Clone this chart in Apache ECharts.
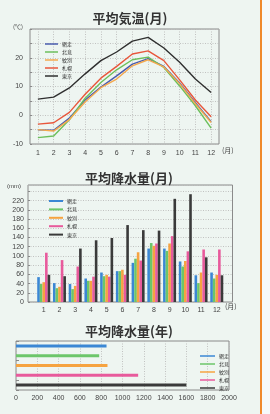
<!DOCTYPE html>
<html>
<head>
<meta charset="utf-8">
<title>平均気温・平均降水量</title>
<script src="https://cdn.jsdelivr.net/npm/echarts@6/dist/echarts.min.js"></script>
<style>
  body { margin: 0; background: #eef5f1; }
  #main { width: 270px; height: 414px; }
</style>
</head>
<body>
<div id="main"></div>
<script>
// 地点・月
var cities = ['網走', '北見', '紋別', '札幌', '東京'];
var months = ['1', '2', '3', '4', '5', '6', '7', '8', '9', '10', '11', '12'];

// 平均気温(℃)
var tempAbashiri = [-5.1, -5.2, -1.0, 5.3, 9.8, 13.7, 17.8, 19.7, 17.0, 11.2, 4.4, -2.2];
var tempKitami   = [-7.8, -7.2, -1.6, 5.9, 11.4, 15.8, 19.3, 20.2, 16.6, 10.2, 3.3, -4.5];
var tempMonbetsu = [-5.0, -5.5, -1.5, 4.6, 9.6, 12.6, 17.2, 19.3, 16.8, 11.0, 4.0, -2.5];
var tempSapporo  = [-3.1, -2.6, 1.0, 7.3, 12.9, 17.0, 21.3, 22.4, 19.0, 12.3, 5.3, -0.5];
var tempTokyo    = [5.6, 6.3, 9.5, 14.4, 19.0, 22.0, 25.8, 27.1, 23.4, 18.4, 12.6, 7.9];

// 平均降水量(mm・月)
var rainAbashiri = [54, 41, 39, 51, 64, 67, 85, 116, 116, 88, 58, 64];
var rainKitami   = [39, 30, 28, 46, 56, 67, 94, 128, 111, 77, 41, 51];
var rainMonbetsu = [43, 33, 35, 46, 59, 70, 108, 122, 127, 89, 64, 59];
var rainSapporo  = [107, 91, 77, 55, 55, 59, 90, 127, 143, 110, 114, 114];
var rainTokyo    = [59, 56, 116, 134, 139, 167, 156, 155, 224, 234, 97, 58];

// 平均降水量(mm・年)
var rainYear = [850, 781, 859, 1147, 1600];

var lineColors = ['#4a5cae', '#6cbf5c', '#f4a94e', '#e8563b', '#2f2f2f'];
var barColors  = ['#3b87d4', '#6cc66a', '#f6a340', '#e85a9c', '#3a3a3a'];

var myChart = echarts.init(document.getElementById('main'));

var numFont = 'Liberation Sans';
var jpFont = 'Noto Sans CJK JP';
var labelStyle = { fontSize: 7, color: '#444', fontFamily: numFont };
var boxColor = '#8a8a8a';
var gridLine = { show: true, lineStyle: { color: '#b5b5b5', type: [1, 1.5], width: 0.8 } };

function legendData(colors) {
    return cities.map(function (c, i) {
        return { name: c, icon: 'rect', itemStyle: { color: colors[i] }, lineStyle: { color: colors[i] } };
    });
}

// 棒グラフ用に左右を空けたカテゴリ
var padMonths = [''].concat(months).concat(['']);
function pad(arr) { return ['-'].concat(arr).concat(['-']); }

var tempData = [tempAbashiri, tempKitami, tempMonbetsu, tempSapporo, tempTokyo];
var rainData = [rainAbashiri, rainKitami, rainMonbetsu, rainSapporo, rainTokyo];

var series = [];
tempData.forEach(function (d, i) {
    series.push({
        name: cities[i], type: 'line', xAxisIndex: 0, yAxisIndex: 0,
        data: d, symbol: 'none', silent: true,
        lineStyle: { color: lineColors[i], width: 1.4 },
        itemStyle: { color: lineColors[i] }
    });
});
rainData.forEach(function (d, i) {
    series.push({
        name: cities[i], type: 'bar', xAxisIndex: 1, yAxisIndex: 1,
        data: pad(d), barWidth: 2.6, barGap: '0%', silent: true,
        itemStyle: { color: barColors[i] }
    });
});
series.push({
    name: '年', type: 'bar', xAxisIndex: 2, yAxisIndex: 2, barWidth: 3, silent: true,
    data: rainYear.map(function (v, i) { return { value: v, itemStyle: { color: barColors[i] } }; })
});

var option = {
    animation: false,
    backgroundColor: '#eef5f1',
    title: [
        { text: '平均気温(月)', left: 125, top: 7, textAlign: 'center',
          textStyle: { fontSize: 13, fontWeight: 'bold', color: '#333', fontFamily: jpFont } },
        { text: '平均降水量(月)', left: 124, top: 167, textAlign: 'center',
          textStyle: { fontSize: 13, fontWeight: 'bold', color: '#333', fontFamily: jpFont } },
        { text: '平均降水量(年)', left: 124, top: 320, textAlign: 'center',
          textStyle: { fontSize: 13, fontWeight: 'bold', color: '#333', fontFamily: jpFont } }
    ],
    legend: [
        { data: legendData(lineColors), orient: 'vertical', left: 40, top: 36,
          itemWidth: 13, itemHeight: 1.5, itemGap: 2, selectedMode: false,
          textStyle: { fontSize: 5, lineHeight: 6, color: '#333', fontFamily: jpFont, padding: [0, 0, 0, -1] } },
        { data: legendData(barColors), orient: 'vertical', left: 44, top: 193,
          itemWidth: 14, itemHeight: 2, itemGap: 2.4, selectedMode: false,
          textStyle: { fontSize: 5, lineHeight: 6, color: '#333', fontFamily: jpFont, padding: [0, 0, 0, -1] } },
        { data: legendData(barColors), orient: 'vertical', left: 195, top: 348,
          itemWidth: 15, itemHeight: 1.5, itemGap: 2, selectedMode: false,
          textStyle: { fontSize: 5, lineHeight: 6, color: '#333', fontFamily: jpFont, padding: [0, 0, 0, -1] } }
    ],
    grid: [
        { left: 30, right: 51, top: 29, height: 115, show: true, borderColor: boxColor, borderWidth: 1, backgroundColor: 'transparent' },
        { left: 28, right: 37.5, top: 185, height: 117, show: true, borderColor: boxColor, borderWidth: 1, backgroundColor: 'transparent' },
        { left: 16, right: 41, top: 341, height: 49, show: true, borderColor: boxColor, borderWidth: 1, backgroundColor: 'transparent' }
    ],
    xAxis: [
        { gridIndex: 0, type: 'category', data: months, boundaryGap: true,
          axisLine: { show: false }, axisTick: { show: false },
          axisLabel: Object.assign({ margin: 6 }, labelStyle),
          splitLine: { show: true, alignWithLabel: true, lineStyle: gridLine.lineStyle } },
        { gridIndex: 1, type: 'category', data: padMonths, boundaryGap: false,
          axisLine: { show: false }, axisTick: { show: false },
          axisLabel: Object.assign({ margin: 5, interval: 0 }, labelStyle),
          splitLine: { show: false } },
        { gridIndex: 2, type: 'value', min: 0, max: 2000, interval: 200,
          axisLine: { show: false }, axisTick: { show: false },
          axisLabel: Object.assign({ margin: 5, formatter: function (v) { return String(v); } }, labelStyle),
          splitLine: gridLine }
    ],
    yAxis: [
        { gridIndex: 0, type: 'value', min: -10, max: 30, interval: 5,
          axisLine: { show: false },
          axisTick: { show: true, inside: true, length: 2, lineStyle: { color: boxColor } },
          axisLabel: Object.assign({ margin: 7, formatter: function (v) { return (v % 10 === 0 && v < 30) ? v : ''; } }, labelStyle),
          splitLine: gridLine },
        { gridIndex: 1, type: 'value', min: 0, max: 254, interval: 20,
          axisLine: { show: false },
          axisTick: { show: true, inside: true, length: 2, lineStyle: { color: boxColor } },
          axisLabel: Object.assign({ margin: 4, showMaxLabel: false, formatter: function (v) { return v <= 220 ? v : ''; } }, labelStyle),
          splitLine: gridLine },
        { gridIndex: 2, type: 'category', data: cities, inverse: true,
          axisLine: { show: false },
          axisTick: { show: true, inside: true, length: 3, lineStyle: { color: boxColor } },
          axisLabel: { show: false }, splitLine: { show: false } }
    ],
    graphic: [
        { type: 'rect', left: 262, top: 0, shape: { width: 8, height: 414 }, style: { fill: '#f6fafb' }, silent: true },
        { type: 'rect', left: 260, top: 0, shape: { width: 2, height: 414 }, style: { fill: '#f08a2e' }, silent: true },
        { type: 'text', left: 13, top: 24, style: { text: '(℃)', fontSize: 6, fill: '#444', fontFamily: jpFont } },
        { type: 'text', left: 222, top: 147, style: { text: '(月)', fontSize: 7, fill: '#444', fontFamily: jpFont } },
        { type: 'text', left: 7, top: 183, style: { text: '(mm)', fontSize: 6, fill: '#444', fontFamily: numFont } },
        { type: 'text', left: 225, top: 303, style: { text: '(月)', fontSize: 7, fill: '#444', fontFamily: jpFont } }
    ],
    series: series
};

myChart.setOption(option);
</script>
</body>
</html>
